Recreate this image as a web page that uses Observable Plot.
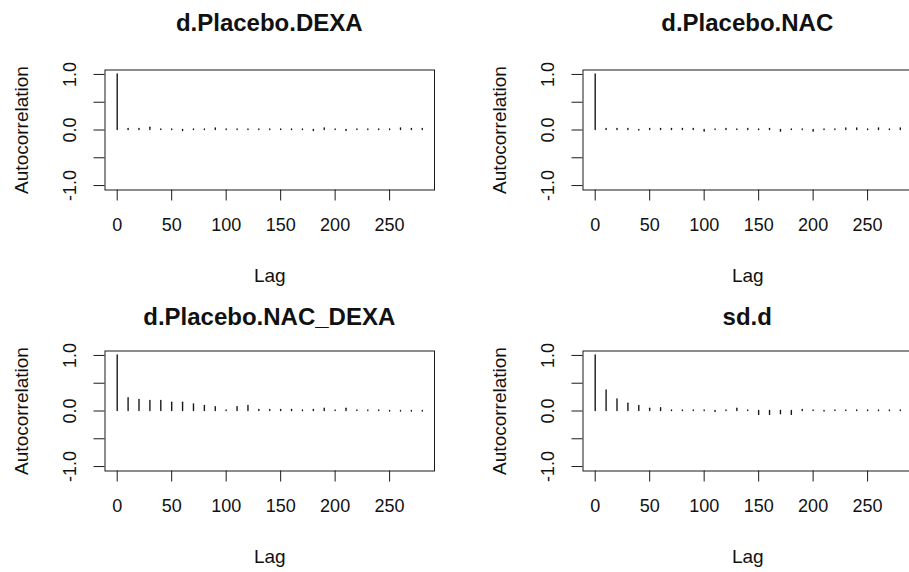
<!DOCTYPE html>
<html><head><meta charset="utf-8">
<script src="https://cdn.jsdelivr.net/npm/d3@7"></script>
<script src="https://cdn.jsdelivr.net/npm/@observablehq/plot@0.6"></script>
<style>
html,body{margin:0;padding:0;background:#fff;}
#fig{position:relative;width:909px;height:572px;overflow:hidden;font-family:"Liberation Sans",Arial,sans-serif;background:#fff;}
.cell{position:absolute;width:478px;height:281px;}
.title{position:absolute;left:104.5px;width:329.5px;text-align:center;font-weight:bold;font-size:24px;line-height:24px;color:#111;white-space:nowrap;}
.cell svg{position:absolute;left:0;}
</style></head><body><div id="fig"></div>
<script>
// Lags (every 10th iteration)
const lags = [0,10,20,30,40,50,60,70,80,90,100,110,120,130,140,150,160,170,180,190,200,210,220,230,240,250,260,270,280];

// Autocorrelation values per chain parameter
const acfPlaceboDexa = [1,0.02,0.02,0.04,0.01,0.01,-0.02,0.01,0.01,0.03,0.01,0.01,0.01,0.01,0.01,0.01,0.01,0.01,-0.02,0.03,0.01,-0.02,0.01,0.01,0.01,0.01,0.03,0.02,0.02];
const acfPlaceboNac = [1,0.02,0.02,0.02,-0.01,0.02,0.02,0.02,0.02,0.02,-0.03,0.01,0.02,0.01,0.02,0.01,0.02,-0.03,0.01,0.01,-0.03,0.01,0.01,0.03,0.03,0.01,0.03,0.01,0.03];
const acfPlaceboNacDexa = [1,0.23,0.20,0.18,0.18,0.15,0.15,0.12,0.09,0.07,0.01,0.07,0.09,0.02,0.02,0.02,0.02,0.01,0.02,0.04,0.01,0.04,0.01,0.01,0.01,-0.01,-0.01,-0.01,-0.01];
const acfSdD = [1,0.37,0.21,0.13,0.09,0.04,0.05,0.01,0.01,0.01,0.01,-0.02,0.01,0.04,0.01,-0.07,-0.07,-0.06,-0.07,0.02,0.01,-0.01,0.01,0.01,0.01,0.01,0.01,0.01,0.01];

const panelTitles = ["d.Placebo.DEXA","d.Placebo.NAC","d.Placebo.NAC_DEXA","sd.d"];
const panelSeries = [acfPlaceboDexa, acfPlaceboNac, acfPlaceboNacDexa, acfSdD];

// Axis ticks
const xTicks = [0,50,100,150,200,250];
const yTicks = [-1,-0.5,0,0.5,1];
const yTickLabels = ["-1.0","","0.0","","1.0"];
const xLabel = "Lag";
const yLabel = "Autocorrelation";

const fig = document.getElementById("fig");
const ink = "#1a1a1a";

panelTitles.forEach((title, k) => {
  const row = Math.floor(k / 2), col = k % 2;
  const cell = document.createElement("div");
  cell.className = "cell";
  cell.style.left = (col * 478) + "px";
  cell.style.top = (row * 281) + "px";

  const svgTop = row === 0 ? 36 : 49;
  const t = document.createElement("div");
  t.className = "title";
  t.style.top = (row === 0 ? 10.7 : 23.7) + "px";
  t.textContent = title;
  cell.appendChild(t);

  const data = lags.map((lag, i) => ({lag, acf: panelSeries[k][i]}));
  const chart = Plot.plot({
    width: 478,
    height: 281 - svgTop,
    marginLeft: 104.5,
    marginRight: 44,
    marginTop: 69.5 - svgTop,
    marginBottom: 91.5,
    x: {domain: [-11.2, 291.2]},
    y: {domain: [-1.08, 1.08]},
    style: {fontFamily: "'Liberation Sans', Arial, sans-serif", fontSize: "19px", color: "#111", background: "transparent", overflow: "visible"},
    marks: [
      Plot.ruleX(data, {x: "lag", y1: 0, y2: "acf", stroke: ink, strokeWidth: 1.4, strokeLinecap: "round"}),
      Plot.frame({stroke: ink, strokeWidth: 1}),
      Plot.axisX({ticks: xTicks, tickSize: 11, tickPadding: 17, stroke: ink, fontSize: 18, tickFormat: d => String(d), label: null}),
      Plot.axisX({ticks: [], label: xLabel, labelAnchor: "center", labelOffset: 92, labelArrow: "none"}),
      Plot.axisY({ticks: yTicks, tickSize: 11, tickPadding: 18, tickRotate: -90, stroke: ink, fontSize: 18,
        tickFormat: d => yTickLabels[yTicks.indexOf(d)], label: null}),
      Plot.axisY({ticks: [], label: yLabel, labelAnchor: "center", labelOffset: 91, labelArrow: "none"})
    ]
  });
  chart.style.top = svgTop + "px";
  cell.appendChild(chart);
  fig.appendChild(cell);
});
</script>
</body></html>
